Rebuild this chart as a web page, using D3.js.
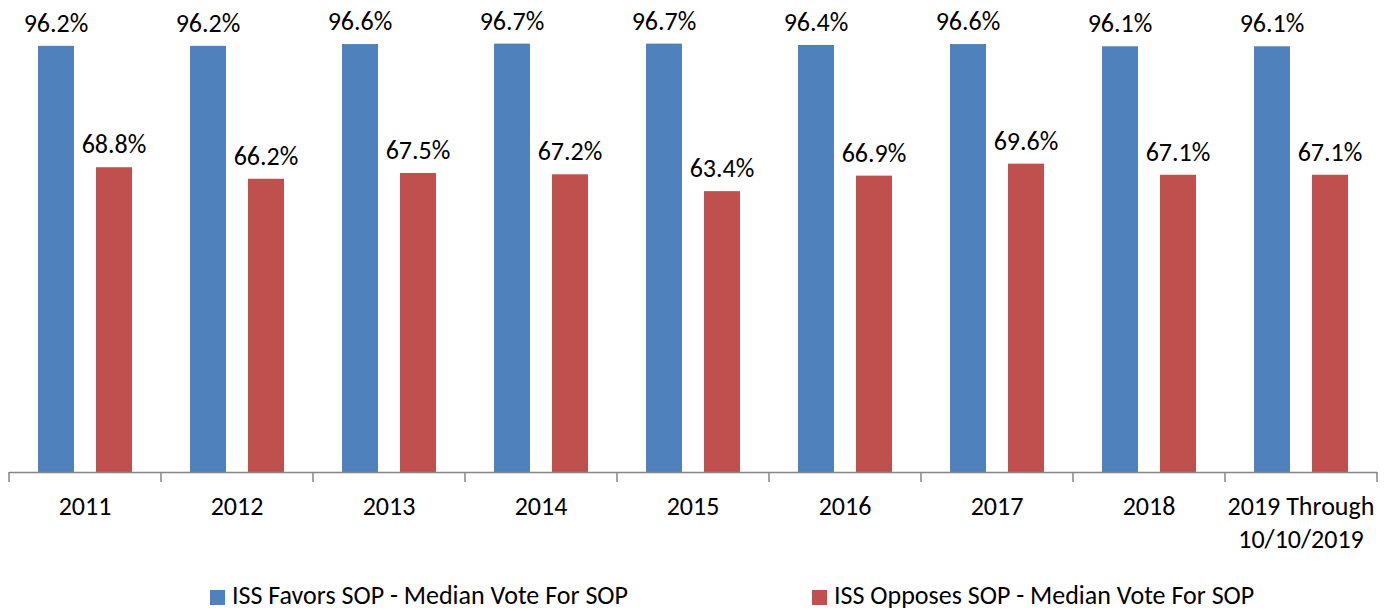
<!DOCTYPE html>
<html>
<head>
<meta charset="utf-8">
<script src="https://cdn.jsdelivr.net/npm/d3@7"></script>
<style>
  body { margin: 0; background: #fff; }
  text { font-family: Carlito, Calibri, "Liberation Sans", sans-serif; fill: #000; }
</style>
</head>
<body>
<div class="chart"></div>
<script>
const categories = ["2011", "2012", "2013", "2014", "2015", "2016", "2017", "2018", "2019 Through\n10/10/2019"];
const seriesNames = ["ISS Favors SOP - Median Vote For SOP", "ISS Opposes SOP - Median Vote For SOP"];
const favorsValues = [96.2, 96.2, 96.6, 96.7, 96.7, 96.4, 96.6, 96.1, 96.1];
const opposesValues = [68.8, 66.2, 67.5, 67.2, 63.4, 66.9, 69.6, 67.1, 67.1];
const seriesColors = ["#4f81bd", "#c0504d"];

const width = 1390, height = 611;

const svg = d3.select(".chart")
  .append("svg")
  .attr("width", width)
  .attr("height", height);

const x = d3.scaleBand()
  .domain(categories)
  .range([9, 1377]);

const xSub = d3.scaleBand()
  .domain(seriesNames)
  .range([0, x.bandwidth()])
  .paddingInner(22 / 58)
  .paddingOuter(0.5);

const y = d3.scaleLinear()
  .domain([0, 100])
  .range([472, 29]);

const rows = categories.map((c, i) => ({ cat: c, vals: [favorsValues[i], opposesValues[i]] }));

const groups = svg.selectAll("g.cat")
  .data(rows)
  .join("g")
  .attr("class", "cat")
  .attr("transform", d => `translate(${x(d.cat)},0)`);

const bars = groups.selectAll("g.bar")
  .data(d => d.vals.map((v, j) => ({ name: seriesNames[j], v: v, j: j })))
  .join("g")
  .attr("class", "bar");

bars.append("rect")
  .attr("x", d => xSub(d.name))
  .attr("y", d => y(d.v))
  .attr("width", xSub.bandwidth())
  .attr("height", d => y(0) - y(d.v))
  .style("fill", d => seriesColors[d.j]);

// value labels
bars.append("text")
  .attr("x", d => xSub(d.name) + xSub.bandwidth() / 2)
  .attr("y", d => y(d.v) - 14)
  .attr("text-anchor", "middle")
  .style("font-size", "26px")
  .text(d => d.v.toFixed(1) + "%");

// x axis
const axisG = svg.append("g");
axisG.append("line")
  .attr("x1", x.range()[0]).attr("x2", x.range()[1])
  .attr("y1", y(0) + 0.5).attr("y2", y(0) + 0.5)
  .style("stroke", "#868686").style("stroke-width", 1.5);

const tickXs = categories.map(c => x(c)).concat([x.range()[1]]);
axisG.selectAll("line.tick")
  .data(tickXs)
  .join("line")
  .attr("class", "tick")
  .attr("x1", d => d).attr("x2", d => d)
  .attr("y1", y(0)).attr("y2", y(0) + 10)
  .style("stroke", "#868686").style("stroke-width", 1.5);

const catLabels = axisG.selectAll("text.cat")
  .data(categories)
  .join("text")
  .attr("class", "cat")
  .attr("text-anchor", "middle")
  .attr("x", d => x(d) + x.bandwidth() / 2)
  .attr("y", 515)
  .style("font-size", "26px");

catLabels.selectAll("tspan")
  .data(d => d.split("\n").map(line => ({ line: line, cx: x(d) + x.bandwidth() / 2 })))
  .join("tspan")
  .attr("x", d => d.cx)
  .attr("dy", (d, i) => i === 0 ? 0 : 33)
  .text(d => d.line);

// legend
const legendX = [210, 812];
const legend = svg.selectAll("g.legend")
  .data(seriesNames)
  .join("g")
  .attr("class", "legend")
  .attr("transform", (d, i) => `translate(${legendX[i]},590)`);

legend.append("rect")
  .attr("width", 15)
  .attr("height", 15)
  .style("fill", (d, i) => seriesColors[i]);

legend.append("text")
  .attr("x", 22)
  .attr("y", 14)
  .style("font-size", "26px")
  .text(d => d);
</script>
</body>
</html>
